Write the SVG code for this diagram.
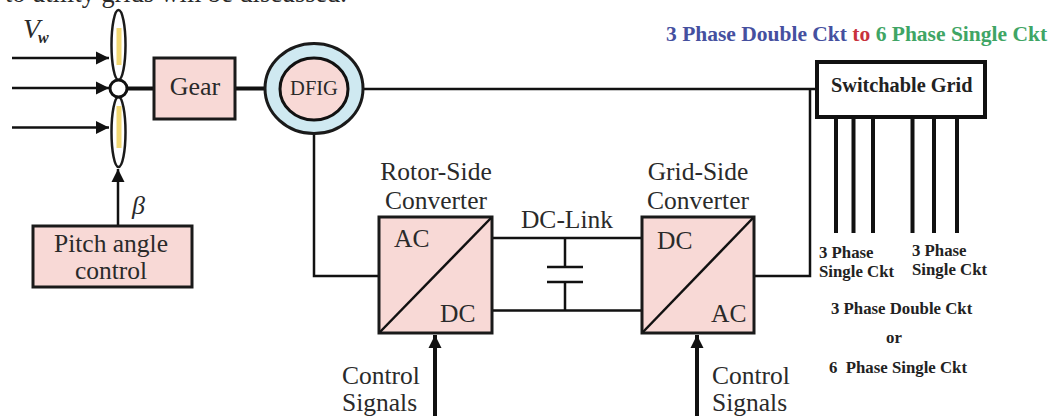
<svg xmlns="http://www.w3.org/2000/svg" width="1051" height="416" viewBox="0 0 1051 416">
<style>
text{font-family:"Liberation Serif","Times New Roman",serif;fill:#2a2a2a}
.l{font-size:25.500px}
.b{font-weight:bold;fill:#222}
.s{font-size:16.800px}
.c{fill:none;stroke:#111;stroke-width:2.500}
.t{fill:none;stroke:#111;stroke-width:4}
.box{fill:#f8d9d6;stroke:#1a1a1a;stroke-width:3}
</style>
<defs>
<marker id="a" markerUnits="userSpaceOnUse" markerWidth="14" markerHeight="14" refX="13" refY="7" orient="auto"><path d="M0 0.500L13 7L0 13.500z" fill="#111"/></marker>
</defs>
<rect width="1051" height="416" fill="#fff"/>
<text x="5" y="2" font-size="26.300px">to utility grids will be discussed.</text>
<g id="connectors">
<path class="c" d="M12 58H109" marker-end="url(#a)"/>
<path class="c" d="M12 88H109" marker-end="url(#a)"/>
<path class="c" d="M12 127.500H109" marker-end="url(#a)"/>
<path class="c" d="M118 226V169" marker-end="url(#a)"/>
<path class="t" d="M127 88.500H154M235 88.500H281"/>
<path class="c" d="M363 89H817M810 89V276H754"/>
<path class="c" d="M314 120V276H379"/>
<path class="c" d="M492 238H642M492 310.500H642M565 238V267M565 282V310.500"/>
<path class="c" d="M547 267H583M547 282H583"/>
<path class="t" d="M435 416V335" marker-end="url(#a)"/>
<path class="t" d="M697 416V335" marker-end="url(#a)"/>
<path class="t" d="M836 117V233M853.500 117V233M873 117V233M912.500 117V233M934 117V233M957 117V233"/>
</g>
<g id="turbine">
<ellipse cx="118.500" cy="45" rx="7" ry="35" fill="#fff" stroke="#1a1a1a" stroke-width="2.500"/>
<ellipse cx="118.500" cy="132" rx="7" ry="35" fill="#fff" stroke="#1a1a1a" stroke-width="2.500"/>
<path d="M119 28V65M119 106V148" stroke="#f2d873" stroke-width="5" fill="none"/>
<circle cx="118.500" cy="88.500" r="8.500" fill="#fff" stroke="#111" stroke-width="3"/>
<text x="23" y="38" font-size="28" font-style="italic">V</text>
<text x="38" y="43" font-size="16" font-style="italic" font-weight="bold">w</text>
</g>
<g id="gear">
<rect class="box" x="154" y="58" width="81" height="61"/>
<text x="195" y="95" font-size="26" text-anchor="middle">Gear</text>
</g>
<g id="dfig">
<ellipse cx="314" cy="88.500" rx="49" ry="45" fill="#cfe9f1" stroke="#1a1a1a" stroke-width="3"/>
<ellipse cx="314" cy="89" rx="34" ry="31" fill="#f8d9d6" stroke="#111" stroke-width="3"/>
<text x="314" y="95" font-size="20.500" text-anchor="middle">DFIG</text>
</g>
<g id="pitch">
<rect class="box" x="33" y="226" width="159" height="61"/>
<text class="l" x="111" y="252" text-anchor="middle">Pitch angle</text>
<text class="l" x="111" y="279" text-anchor="middle">control</text>
<text x="132" y="214" font-size="26" font-style="italic">β</text>
</g>
<g id="rotor-side">
<text class="l" x="436" y="180" text-anchor="middle">Rotor-Side</text>
<text class="l" x="436" y="209" text-anchor="middle">Converter</text>
<rect class="box" x="379" y="217" width="113" height="116"/>
<path class="c" d="M380 332L491 218"/>
<text class="l" x="394" y="247">AC</text>
<text class="l" x="440" y="322">DC</text>
</g>
<g id="dc-link">
<text class="l" x="567" y="228" text-anchor="middle">DC-Link</text>
</g>
<g id="grid-side">
<text class="l" x="698" y="180" text-anchor="middle">Grid-Side</text>
<text class="l" x="698" y="209" text-anchor="middle">Converter</text>
<rect class="box" x="642" y="217" width="112" height="116"/>
<path class="c" d="M643 332L753 218"/>
<text class="l" x="657" y="249">DC</text>
<text class="l" x="711" y="322">AC</text>
</g>
<g id="control-left">
<text class="l" x="342" y="384">Control</text>
<text class="l" x="342" y="411">Signals</text>
</g>
<g id="control-right">
<text class="l" x="712" y="384">Control</text>
<text class="l" x="712" y="411">Signals</text>
</g>
<g id="title">
<text x="666" y="41" font-size="21.500" font-weight="bold"><tspan fill="#45509f">3 Phase Double Ckt </tspan><tspan fill="#c8323c">to </tspan><tspan fill="#3fa565">6 Phase Single Ckt</tspan></text>
</g>
<g id="switchable-grid">
<rect x="817" y="62" width="168" height="55" fill="#fff" stroke="#111" stroke-width="4"/>
<text class="b" x="831" y="92" font-size="20.300">Switchable Grid</text>
</g>
<g id="labels">
<text class="s b" x="819" y="258">3 Phase</text>
<text class="s b" x="819" y="277">Single Ckt</text>
<text class="s b" x="912" y="256">3 Phase</text>
<text class="s b" x="912" y="275">Single Ckt</text>
<text class="s b" x="831" y="314">3 Phase Double Ckt</text>
<text class="s b" x="886" y="343">or</text>
<text class="s b" x="829" y="373" xml:space="preserve">6  Phase Single Ckt</text>
</g>
</svg>
